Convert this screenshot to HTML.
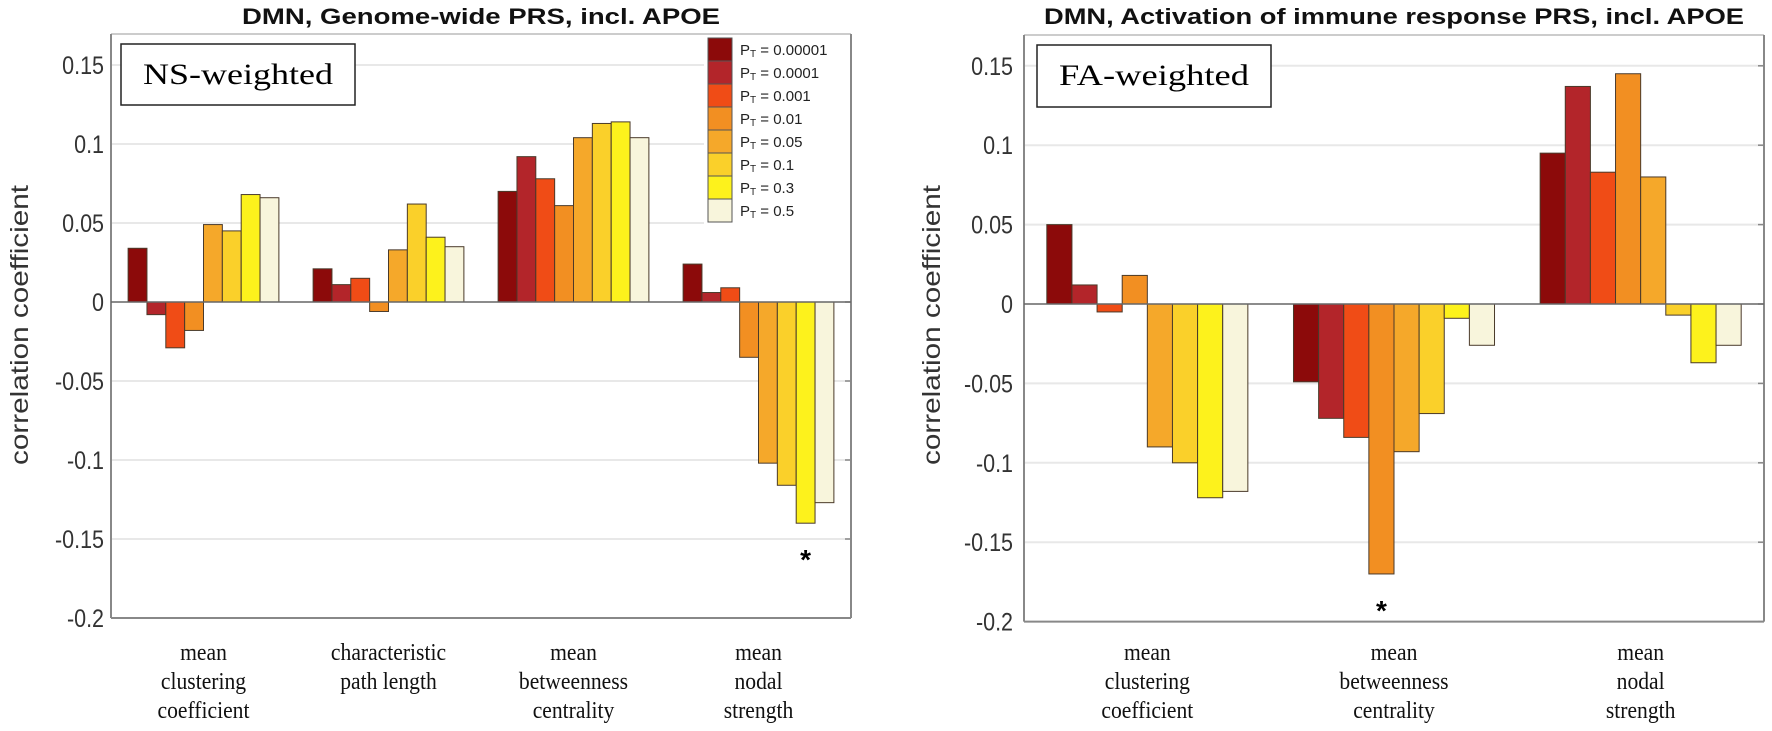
<!DOCTYPE html>
<html><head><meta charset="utf-8"><style>
html,body{margin:0;padding:0;background:#fff;}
svg{display:block;}
</style></head><body>
<svg id="fig" width="1772" height="731" viewBox="0 0 1772 731" xmlns="http://www.w3.org/2000/svg">
</svg>
<script>
const legendLabels = ["0.00001","0.0001","0.001","0.01","0.05","0.1","0.3","0.5"];
const seriesColors = ["#8c0a0a","#b3252a","#f04c16","#f28f22","#f5a82a","#fad02a","#fdf21c","#f8f5dc"];
const yTicks = [0.15,0.1,0.05,0,-0.05,-0.1,-0.15,-0.2];
const yTickLabels = ["0.15","0.1","0.05","0","-0.05","-0.1","-0.15","-0.2"];
const leftCategories = [["mean","clustering","coefficient"],["characteristic","path length"],["mean","betweenness","centrality"],["mean","nodal","strength"]];
const leftValues = [
  [0.034,-0.008,-0.029,-0.018,0.049,0.045,0.068,0.066],
  [0.021,0.011,0.015,-0.006,0.033,0.062,0.041,0.035],
  [0.070,0.092,0.078,0.061,0.104,0.113,0.114,0.104],
  [0.024,0.006,0.009,-0.035,-0.102,-0.116,-0.140,-0.127]
];
const leftStars = [[3,6]];
const rightCategories = [["mean","clustering","coefficient"],["mean","betweenness","centrality"],["mean","nodal","strength"]];
const rightValues = [
  [0.050,0.012,-0.005,0.018,-0.090,-0.100,-0.122,-0.118],
  [-0.049,-0.072,-0.084,-0.170,-0.093,-0.069,-0.009,-0.026],
  [0.095,0.137,0.083,0.145,0.080,-0.007,-0.037,-0.026]
];
const rightStars = [[1,3]];

const svg = document.getElementById('fig');
const NS = 'http://www.w3.org/2000/svg';
function mk(tag, attrs, parent){
  const e = document.createElementNS(NS, tag);
  for (const k in attrs) e.setAttribute(k, attrs[k]);
  (parent||svg).appendChild(e);
  return e;
}

function drawChart(cfg){
  const g = mk('g', {});
  
  
  const x0 = cfg.x0, x1 = cfg.x1, yTop = cfg.yTop;
  const ymin = -0.2, ymax = 0.17;
  const yScale = v => cfg.yZero - v * cfg.pxPerUnit;
  const yBot = yScale(ymin);
  // gridlines
  yTicks.forEach((t,i) => {
    const y = yScale(t);
    if (t !== 0 && t !== -0.2) {
      const gl = mk('line', {x1:x0, x2:x1, y1:y, y2:y, stroke:'#e8e8e8', 'stroke-width':2}, g);
      
      
    }
    const tl = mk('text', {x:cfg.tickX, y:y+9, 'text-anchor':'end', 'font-family':'Liberation Sans, sans-serif', 'font-size':25, fill:'#333', transform:`translate(${cfg.tickX},0) scale(0.86,1) translate(${-cfg.tickX},0)`}, g);
    tl.textContent = yTickLabels[i];
    
    
    mk('line', {x1:x1-6, x2:x1, y1:y, y2:y, stroke:'#888', 'stroke-width':1.5}, g);
  });
  // axes box
  mk('line', {x1:x0, x2:x1, y1:yTop, y2:yTop, stroke:'#bbb', 'stroke-width':1.5}, g);
  mk('line', {x1:x0, x2:x0, y1:yTop, y2:yBot, stroke:'#888', 'stroke-width':2}, g);
  mk('line', {x1:x1, x2:x1, y1:yTop, y2:yBot, stroke:'#888', 'stroke-width':2}, g);
  mk('line', {x1:x0, x2:x1, y1:yBot, y2:yBot, stroke:'#888', 'stroke-width':2}, g);
  // bars
  const n = cfg.values.length;
  const step = (x1 - x0) / n;
  const groupW = step * 0.815;
  const bw = groupW / 8;
  const y0 = yScale(0);
  cfg.values.forEach((grp, gi) => {
    const cx = x0 + step * (gi + 0.5);
    grp.forEach((v, si) => {
      const bx = cx - groupW/2 + si*bw;
      const yv = yScale(v);
      const r = mk('rect', {x:bx, y:Math.min(yv,y0), width:bw, height:Math.max(Math.abs(yv-y0),0.5), fill:seriesColors[si], stroke:'#4a3a2a', 'stroke-width':1}, g);
      
      
    });
    // category label
    const lines = cfg.categories[gi];
    lines.forEach((ln, li) => {
      const t = mk('text', {x:cx, y:660 + li*29, 'text-anchor':'middle', 'font-family':'Liberation Serif, serif', 'font-size':24, fill:'#111', transform:`translate(${cx},0) scale(0.9,1) translate(${-cx},0)`}, g);
      t.textContent = ln;
      
      
    });
  });
  // zero line
  const zl = mk('line', {x1:x0, x2:x1, y1:y0, y2:y0, stroke:'#666', 'stroke-width':1.5}, g);
  
  
  // stars
  cfg.stars.forEach(([gi, si]) => {
    const cx = x0 + step*(gi+0.5) - groupW/2 + (si+0.5)*bw;
    const v = cfg.values[gi][si];
    const st = mk('text', {x:cx, y:yScale(v)+46, 'text-anchor':'middle', 'font-family':'Liberation Sans, sans-serif', 'font-size':28, 'font-weight':'bold', fill:'#000'}, g);
    st.textContent = '*';
    
    
  });
  // title
  const tt = mk('text', {x:(x0+x1)/2, y:24, 'text-anchor':'middle', 'font-family':'Liberation Sans, sans-serif', 'font-size':22, 'font-weight':'bold', fill:'#111', textLength:cfg.titleLen, lengthAdjust:'spacingAndGlyphs'}, g);
  tt.textContent = cfg.title;
  
  
  // y label
  const yl = mk('text', {x:0, y:0, 'text-anchor':'middle', 'font-family':'Liberation Sans, sans-serif', 'font-size':25, fill:'#333', transform:`translate(${cfg.yLabelX},325) rotate(-90)`, textLength:280, lengthAdjust:'spacingAndGlyphs'}, g);
  yl.textContent = 'correlation coefficient';
  
  
  // weighting box
  const bb = mk('rect', {x:cfg.box[0], y:cfg.box[1], width:cfg.box[2], height:cfg.box[3], fill:'#fff', stroke:'#222', 'stroke-width':1.5}, g);
  
  
  const bt = mk('text', {x:cfg.box[0]+cfg.box[2]/2, y:cfg.box[1]+40, 'text-anchor':'middle', 'font-family':'Liberation Serif, serif', 'font-size':30, fill:'#000', textLength:cfg.boxTextLen, lengthAdjust:'spacingAndGlyphs'}, g);
  bt.textContent = cfg.boxText;
  
  
  return g;
}

drawChart({name:'left-chart', x0:111, x1:851, yTop:34, yZero:302, pxPerUnit:1580, tickX:104, yLabelX:28,
  values:leftValues, categories:leftCategories, stars:leftStars,
  title:'DMN, Genome-wide PRS, incl. APOE', titleLen:478,
  box:[121,44,234,61], boxText:'NS-weighted', boxTextLen:190});
drawChart({name:'right-chart', x0:1024, x1:1764, yTop:35, yZero:304, pxPerUnit:1588, tickX:1013, yLabelX:940,
  values:rightValues, categories:rightCategories, stars:rightStars,
  title:'DMN, Activation of immune response PRS, incl. APOE', titleLen:700,
  box:[1037,45,234,62], boxText:'FA-weighted', boxTextLen:190});

// legend
const lg = mk('g', {});


mk('rect', {x:704, y:35, width:146, height:193, fill:'#fff'}, lg);
legendLabels.forEach((lab, i) => {
  const y = 38 + i*23;
  const sw = mk('rect', {x:708, y:y, width:24, height:23, fill:seriesColors[i], stroke:'#555', 'stroke-width':1}, lg);
  
  
  const t = mk('text', {x:740, y:y+17, 'font-family':'Liberation Sans, sans-serif', 'font-size':15, fill:'#222'}, lg);
  
  
  const p = document.createElementNS(NS, 'tspan'); p.textContent = 'P'; t.appendChild(p);
  const s = document.createElementNS(NS, 'tspan'); s.setAttribute('font-size', '10'); s.setAttribute('dy', '2'); s.textContent = 'T'; t.appendChild(s);
  const r = document.createElementNS(NS, 'tspan'); r.setAttribute('dy', '-2'); r.textContent = ' = ' + lab; t.appendChild(r);
});
</script>
</body></html>
